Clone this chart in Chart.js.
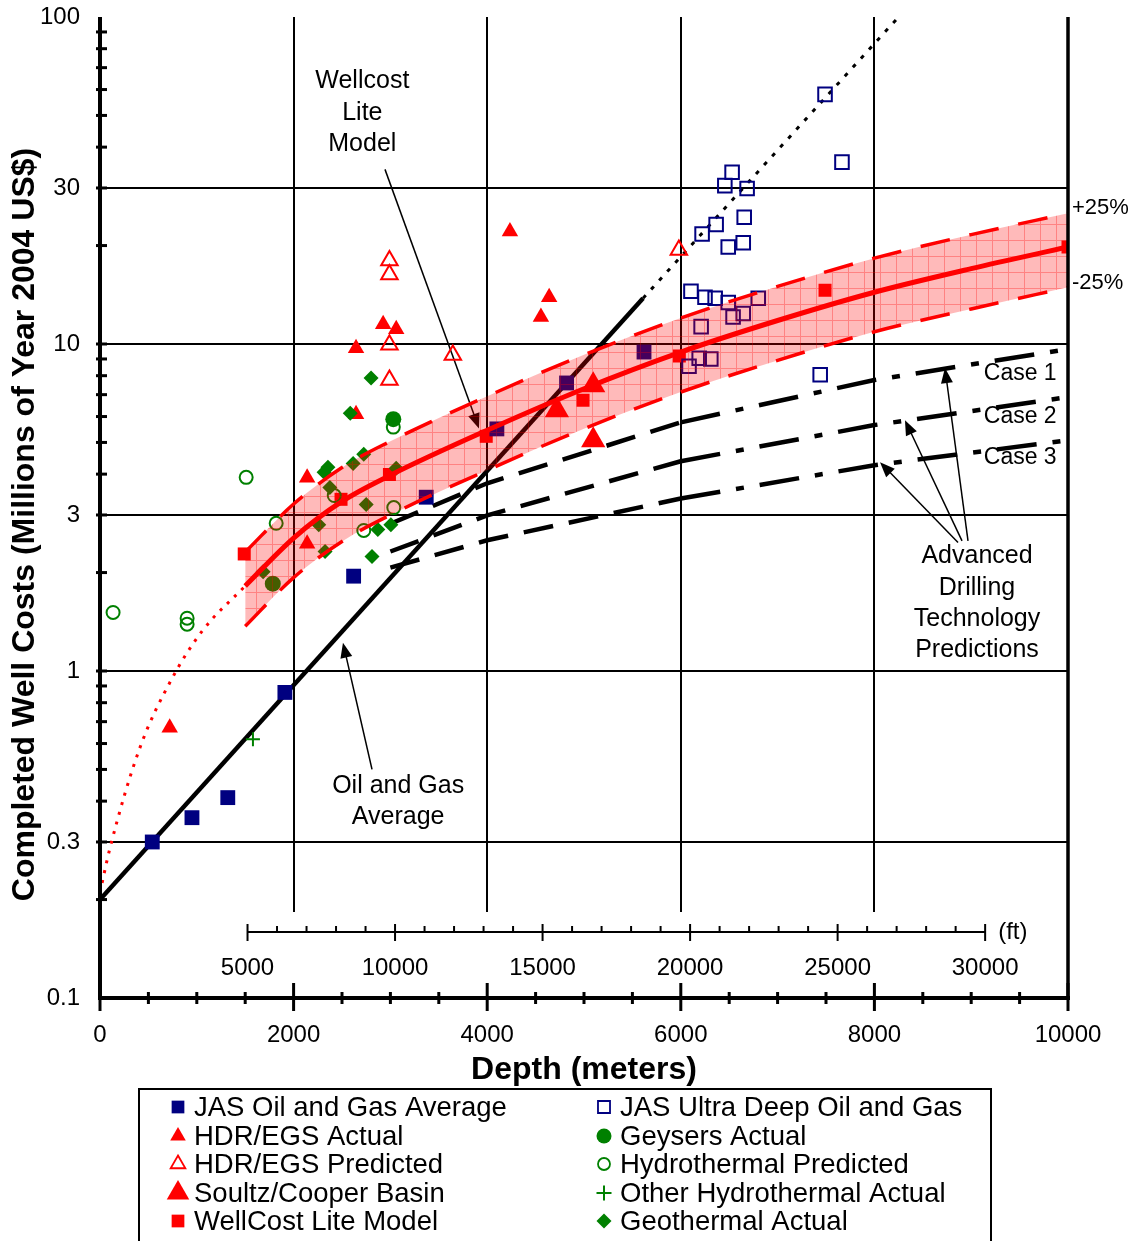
<!DOCTYPE html>
<html><head><meta charset="utf-8">
<script src="https://cdn.jsdelivr.net/npm/chart.js@4.4.1/dist/chart.umd.min.js"></script>
<style>html,body{margin:0;padding:0;background:#fff}#wrap{width:1133px;height:1241px;position:relative}</style>
</head><body><div id="wrap"><canvas id="c" width="1133" height="1241"></canvas></div>
<script>
// ---------- DATA (depth in meters, cost in millions of 2004 US$) ----------
const xTicks = [0, 2000, 4000, 6000, 8000, 10000];
const yTicks = [0.1, 0.3, 1, 3, 10, 30, 100];
const gridDepths = [2000, 4000, 6000, 8000];
const gridCosts = [0.3, 1, 3, 10, 30];
const ftTicks = [5000, 10000, 15000, 20000, 25000, 30000];

const jasDepth = [540, 950, 1320, 1910, 2620, 3370, 4100, 4820, 5620];
const jasCost  = [0.30, 0.356, 0.41, 0.86, 1.95, 3.4, 5.5, 7.6, 9.45];

const ultraDepth = [7490, 7665, 6530, 6455, 6685, 6655, 6365, 6220, 6490, 6645, 6105, 6250, 6355, 6490, 6800, 6540, 6645, 6210, 6190, 6310, 6085, 7440];
const ultraCost  = [58, 36, 33.5, 30.5, 29.9, 24.4, 23.2, 21.7, 19.8, 20.4, 14.5, 13.9, 13.8, 13.4, 13.8, 12.1, 12.4, 11.3, 9.05, 9.0, 8.55, 8.05];

const hdrActDepth = [720, 2140, 2140, 2645, 2645, 2925, 3060, 4235, 4640, 4555];
const hdrActCost  = [0.67, 3.9, 2.45, 6.1, 9.7, 11.5, 11.1, 22.1, 13.9, 12.1];

const hdrPredDepth = [2990, 2990, 2990, 2990, 3645, 5980];
const hdrPredCost  = [18.0, 16.3, 9.95, 7.76, 9.25, 19.4];

const soultzDepth = [4720, 5095, 5095];
const soultzCost  = [6.27, 7.48, 5.08];

const wellcostDepth = [1490, 2490, 2990, 3990, 4990, 5985, 7490, 10000];
const wellcostCost  = [2.28, 3.35, 3.99, 5.22, 6.73, 9.19, 14.6, 19.8];

const geysersDepth = [1785, 3030];
const geysersCost  = [1.85, 5.89];

const hydroPredDepth = [135, 900, 900, 1510, 1820, 2420, 3030, 3035, 2725];
const hydroPredCost  = [1.51, 1.45, 1.39, 3.91, 2.83, 3.44, 5.57, 3.16, 2.69];

const otherHydroDepth = [1580];
const otherHydroCost  = [0.618];

const geoDepth = [1685, 2260, 2315, 2325, 2355, 2375, 2585, 2615, 2725, 2750, 2800, 2810, 2870, 3005, 3060];
const geoCost  = [2.01, 2.8, 4.05, 2.32, 4.2, 3.64, 6.14, 4.31, 4.6, 3.23, 7.87, 2.24, 2.71, 2.8, 4.17];

// WellCost Lite model curve and +/-25% band
const modelDepth = [1500, 2000, 2500, 3000, 4000, 5000, 6000, 7000, 8000, 9000, 10000];
const modelCost  = [1.82, 2.55, 3.3, 3.97, 5.45, 7.3, 9.45, 11.8, 14.4, 17.0, 19.8];
const bandUpper  = [2.31, 3.24, 4.19, 5.04, 6.92, 9.27, 12.0, 15.0, 18.3, 21.6, 25.1];
const bandLower  = [1.37, 1.93, 2.49, 3.0, 4.11, 5.51, 7.13, 8.91, 10.9, 12.8, 14.9];
const modelExtDepth = [0, 100, 410, 745, 1060, 1500];
const modelExtCost  = [0.21, 0.285, 0.58, 0.95, 1.33, 1.82];

// Oil and gas average trend
const oilGasDepth = [0, 5610];
const oilGasCost  = [0.2, 13.8];
const oilGasExtDepth = [5610, 8250];
const oilGasExtCost  = [13.8, 100];

// Advanced drilling technology predictions
const caseDepth = [3000, 4000, 6000, 8000, 10000];
const case1Cost = [2.82, 3.75, 5.76, 7.76, 9.65];
const case2Cost = [2.32, 2.99, 4.38, 5.65, 6.88];
const case3Cost = [2.07, 2.51, 3.37, 4.26, 5.08];

// ---------- STYLE ----------
const FONT = '"Liberation Sans", Arial, sans-serif';
const NAVY = '#000080', RED = '#ff0000', GREEN = '#008000';
const pts = (xs, ys) => xs.map((x, i) => ({x, y: ys[i]}));

const cv = document.getElementById('c');
const mctx = cv.getContext('2d');
function makeHatch(){
  const c = document.createElement('canvas'); c.width = 16; c.height = 16;
  const g = c.getContext('2d');
  g.fillStyle = 'rgba(255,0,0,0.27)'; g.fillRect(0,0,16,16);
  g.fillStyle = 'rgba(255,0,0,0.30)'; g.fillRect(0,0,16,1); g.fillRect(0,1,1,15);
  return mctx.createPattern(c, 'repeat');
}
const hatch = makeHatch();

function lineDS(data, color, width, dash, order, extra){
  return Object.assign({data, borderColor: color, backgroundColor: color, borderWidth: width, borderDash: dash || [],
    pointRadius: 0, showLine: true, fill: false, order, tension: 0}, extra || {});
}
function ptDS(label, data, style, r, fill, stroke, bw){
  return {label, data, showLine: false, pointStyle: style, pointRadius: r, pointHoverRadius: r,
    backgroundColor: fill, borderColor: stroke, pointBorderWidth: bw, borderWidth: bw, order: 3};
}
const caseSeg = {borderDash: c => c.p0.parsed.x >= 6000 ? [40,16,8,16] : [30,16]};

const datasets = [
  lineDS(pts(oilGasDepth, oilGasCost), '#000', 4.5, [], 4),
  lineDS(pts(oilGasExtDepth, oilGasExtCost), '#000', 3, [4,8], 4),
  lineDS(pts(modelExtDepth, modelExtCost), RED, 3, [3,7], 4, {cubicInterpolationMode: 'monotone'}),
  lineDS(pts(caseDepth, case1Cost), '#000', 4.5, [30,16], 4, {segment: caseSeg}),
  lineDS(pts(caseDepth, case2Cost), '#000', 4.5, [30,16], 4, {segment: caseSeg}),
  lineDS(pts(caseDepth, case3Cost), '#000', 4.5, [30,16], 4, {segment: caseSeg}),
  ptDS('Geysers Actual', pts(geysersDepth, geysersCost), 'circle', 8, GREEN, GREEN, 0),
  ptDS('Hydrothermal Predicted', pts(hydroPredDepth, hydroPredCost), 'circle', 6.5, 'rgba(0,0,0,0)', GREEN, 2),
  ptDS('Other Hydrothermal Actual', pts(otherHydroDepth, otherHydroCost), 'cross', 7, GREEN, GREEN, 2),
  ptDS('Geothermal Actual', pts(geoDepth, geoCost), 'rectRot', 7.5, GREEN, GREEN, 0),
  ptDS('JAS Oil and Gas Average', pts(jasDepth, jasCost), 'rect', 10.5, NAVY, NAVY, 0),
  ptDS('JAS Ultra Deep Oil and Gas', pts(ultraDepth, ultraCost), 'rect', 9.6, 'rgba(0,0,0,0)', NAVY, 2),
  ptDS('HDR/EGS Predicted', pts(hdrPredDepth, hdrPredCost), 'triangle', 9.5, 'rgba(0,0,0,0)', RED, 2),
  ptDS('HDR/EGS Actual', pts(hdrActDepth, hdrActCost), 'triangle', 9.5, RED, RED, 0),
  ptDS('Soultz/Cooper Basin', pts(soultzDepth, soultzCost), 'triangle', 14, RED, RED, 0),
  ptDS('WellCost Lite Model', pts(wellcostDepth, wellcostCost), 'rect', 9.2, RED, RED, 0),
  lineDS(pts(modelDepth, bandUpper), RED, 3.5, [30,20], 2, {fill: '+1', backgroundColor: hatch, cubicInterpolationMode: 'monotone'}),
  lineDS(pts(modelDepth, bandLower), RED, 3.5, [30,20], 2, {cubicInterpolationMode: 'monotone'}),
  lineDS(pts(modelDepth, modelCost), RED, 5, [], 1, {cubicInterpolationMode: 'monotone'})
];

// ---------- annotations (anchored in data units) ----------
const textLabels = [
  {d: 2710, c: 63.5, lines: ['Wellcost', 'Lite', 'Model'], align: 'center', size: 25, lh: 31.5},
  {d: 3080, c: 0.444, lines: ['Oil and Gas', 'Average'], align: 'center', size: 25, lh: 31},
  {d: 9060, c: 2.24, lines: ['Advanced', 'Drilling', 'Technology', 'Predictions'], align: 'center', size: 25, lh: 31.3},
  {d: 9130, c: 8.09, lines: ['Case 1'], align: 'left', size: 23, lh: 0},
  {d: 9130, c: 6.01, lines: ['Case 2'], align: 'left', size: 23, lh: 0},
  {d: 9130, c: 4.5, lines: ['Case 3'], align: 'left', size: 23, lh: 0},
  {d: 10041, c: 26.1, lines: ['+25%'], align: 'left', size: 22, lh: 0},
  {d: 10041, c: 15.4, lines: ['-25%'], align: 'left', size: 22, lh: 0}
];
const arrows = [
  {d0: 2944, c0: 34.2, d1: 3915, c1: 5.52},
  {d0: 2810, c0: 0.50, d1: 2510, c1: 1.22},
  {d0: 8967, c0: 2.5, d1: 8729, c1: 8.44},
  {d0: 8905, c0: 2.5, d1: 8316, c1: 5.85},
  {d0: 8864, c0: 2.47, d1: 8058, c1: 4.35}
];

function seg(ctx, x0, y0, x1, y1){ ctx.beginPath(); ctx.moveTo(x0, y0); ctx.lineTo(x1, y1); ctx.stroke(); }
function marker(ctx, style, x, y, r, fill, stroke, lw){
  ctx.save(); ctx.beginPath();
  if (style === 'rect'){ const s = r*Math.SQRT1_2; ctx.rect(x-s, y-s, 2*s, 2*s); }
  else if (style === 'triangle'){ ctx.moveTo(x, y-r); ctx.lineTo(x+r*0.866, y+r/2); ctx.lineTo(x-r*0.866, y+r/2); ctx.closePath(); }
  else if (style === 'circle'){ ctx.arc(x, y, r, 0, Math.PI*2); }
  else if (style === 'rectRot'){ ctx.moveTo(x-r, y); ctx.lineTo(x, y-r); ctx.lineTo(x+r, y); ctx.lineTo(x, y+r); ctx.closePath(); }
  else if (style === 'cross'){ ctx.moveTo(x-r, y); ctx.lineTo(x+r, y); ctx.moveTo(x, y-r); ctx.lineTo(x, y+r); }
  if (fill && style !== 'cross'){ ctx.fillStyle = fill; ctx.fill(); }
  if (stroke){ ctx.strokeStyle = stroke; ctx.lineWidth = lw; ctx.stroke(); }
  ctx.restore();
}

const legendLeft = [
  ['rect', 9, NAVY, null, 0, 'JAS Oil and Gas Average'],
  ['triangle', 9, RED, null, 0, 'HDR/EGS Actual'],
  ['triangle', 8.5, null, RED, 1.8, 'HDR/EGS Predicted'],
  ['triangle', 13, RED, null, 0, 'Soultz/Cooper Basin'],
  ['rect', 9, RED, null, 0, 'WellCost Lite Model']
];
const legendRight = [
  ['rect', 8.5, null, NAVY, 1.8, 'JAS Ultra Deep Oil and Gas'],
  ['circle', 7.5, GREEN, null, 0, 'Geysers Actual'],
  ['circle', 6, null, GREEN, 1.8, 'Hydrothermal Predicted'],
  ['cross', 7.5, null, GREEN, 2, 'Other Hydrothermal Actual'],
  ['rectRot', 7.5, GREEN, null, 0, 'Geothermal Actual']
];

const deco = {
  id: 'deco',
  beforeDatasetsDraw(chart){
    const {ctx, chartArea: a, scales: {x, y}} = chart;
    ctx.save();
    ctx.strokeStyle = '#000'; ctx.lineWidth = 2;
    gridCosts.forEach(v => { const Y = Math.round(y.getPixelForValue(v)); seg(ctx, a.left, Y, a.right, Y); });
    gridDepths.forEach(d => { const X = Math.round(x.getPixelForValue(d)); seg(ctx, X, a.top, X, a.bottom - 86); });
    // arrows
    ctx.lineWidth = 1.5; ctx.fillStyle = '#000';
    arrows.forEach(ar => {
      const x0 = x.getPixelForValue(ar.d0), y0 = y.getPixelForValue(ar.c0);
      const x1 = x.getPixelForValue(ar.d1), y1 = y.getPixelForValue(ar.c1);
      const ang = Math.atan2(y1 - y0, x1 - x0), L = 15, W = 6;
      seg(ctx, x0, y0, x1 - Math.cos(ang)*L*0.8, y1 - Math.sin(ang)*L*0.8);
      ctx.beginPath(); ctx.moveTo(x1, y1);
      ctx.lineTo(x1 - Math.cos(ang)*L - Math.sin(ang)*W, y1 - Math.sin(ang)*L + Math.cos(ang)*W);
      ctx.lineTo(x1 - Math.cos(ang)*L + Math.sin(ang)*W, y1 - Math.sin(ang)*L - Math.cos(ang)*W);
      ctx.closePath(); ctx.fill();
    });
    ctx.restore();
  },
  afterDatasetsDraw(chart){
    const {ctx, chartArea: a, scales: {x, y}} = chart;
    ctx.save();
    ctx.strokeStyle = '#000'; ctx.fillStyle = '#000';
    // axes frame
    ctx.lineWidth = 4;
    seg(ctx, a.left, a.top, a.left, a.bottom + 2);
    seg(ctx, a.left - 2, a.bottom, a.right + 2, a.bottom);
    ctx.lineWidth = 3.5;
    seg(ctx, a.right, a.top, a.right, a.bottom);
    // x ticks
    ctx.lineWidth = 3;
    for (let d = 0; d <= 10000; d += 500){
      const X = x.getPixelForValue(d);
      if (d % 2000 === 0) seg(ctx, X, a.bottom - 15, X, a.bottom + 13);
      else seg(ctx, X, a.bottom - 6, X, a.bottom + 6);
    }
    // y ticks
    for (let e = -1; e < 2; e++){
      for (let m = 1; m <= 9; m++){
        const v = m * Math.pow(10, e);
        if (v <= 0.1 || v >= 100) continue;
        const Y = y.getPixelForValue(v);
        seg(ctx, a.left - 4, Y, a.left + 7, Y);
      }
    }
    // feet axis
    const ftY = a.bottom - 66;
    const ftX = ft => x.getPixelForValue(ft * 0.3048);
    ctx.lineWidth = 2;
    seg(ctx, ftX(5000), ftY, ftX(30000), ftY);
    for (let ft = 5000; ft <= 30000; ft += 1000){
      const X = ftX(ft);
      if (ft % 5000 === 0) seg(ctx, X, ftY - 8, X, ftY + 9);
      else seg(ctx, X, ftY - 6, X, ftY);
    }
    ctx.font = '24px ' + FONT; ctx.textBaseline = 'middle'; ctx.textAlign = 'center';
    ftTicks.forEach(ft => ctx.fillText(String(ft), ftX(ft), ftY + 36));
    ctx.textAlign = 'left';
    ctx.fillText('(ft)', ftX(30000) + 13, ftY);
    // text labels
    textLabels.forEach(t => {
      const X = x.getPixelForValue(t.d), Y = y.getPixelForValue(t.c);
      ctx.font = t.size + 'px ' + FONT; ctx.textAlign = t.align; ctx.textBaseline = 'middle';
      t.lines.forEach((s, i) => ctx.fillText(s, X, Y + i * t.lh));
    });
    ctx.restore();
  },
  afterDraw(chart){
    const {ctx, chartArea: a} = chart;
    ctx.save();
    ctx.fillStyle = '#000';
    // axis titles
    ctx.font = 'bold 32px ' + FONT; ctx.textAlign = 'center'; ctx.textBaseline = 'middle';
    ctx.fillText('Depth (meters)', (a.left + a.right) / 2, a.bottom + 72);
    ctx.save();
    ctx.translate(a.left - 75, (a.top + a.bottom) / 2 + 17);
    ctx.rotate(-Math.PI / 2);
    ctx.fillText('Completed Well Costs (Millions of Year 2004 US$)', 0, 0);
    ctx.restore();
    // legend
    ctx.strokeStyle = '#000'; ctx.lineWidth = 2;
    ctx.strokeRect(139, 1089, 852, 200);
    const rows = [1107, 1136, 1164, 1193, 1221];
    ctx.font = '27.5px ' + FONT; ctx.textAlign = 'left'; ctx.textBaseline = 'middle';
    [[legendLeft, 178, 194], [legendRight, 604, 620]].forEach(([items, mx, tx]) => {
      items.forEach((it, i) => {
        marker(ctx, it[0], mx, rows[i], it[1], it[2], it[3], it[4]);
        ctx.fillStyle = '#000';
        ctx.fillText(it[5], tx, rows[i] + 1);
      });
    });
    ctx.restore();
  }
};

new Chart(cv, {
  type: 'line',
  data: {datasets},
  options: {
    responsive: false, animation: false, devicePixelRatio: 1,
    layout: {padding: {left: 0, top: 17, right: 65, bottom: 0}},
    plugins: {legend: {display: false}, tooltip: {enabled: false}, filler: {propagate: false}},
    scales: {
      x: {type: 'linear', min: 0, max: 10000,
        grid: {display: false, drawTicks: false}, border: {display: false},
        afterBuildTicks: s => { s.ticks = xTicks.map(v => ({value: v})); },
        ticks: {autoSkip: false, maxRotation: 0, padding: 23, color: '#000', font: {family: FONT, size: 24}, callback: v => String(v)},
        afterFit: s => { s.height = 243; s.paddingLeft = 0; s.paddingRight = 0; }},
      y: {type: 'logarithmic', min: 0.1, max: 100,
        grid: {display: false, drawTicks: false}, border: {display: false},
        afterBuildTicks: s => { s.ticks = yTicks.map(v => ({value: v})); },
        ticks: {autoSkip: false, padding: 20, color: '#000', font: {family: FONT, size: 24}, callback: v => String(v)},
        afterFit: s => { s.width = 100; s.paddingTop = 0; s.paddingBottom = 0; }}
    }
  },
  plugins: [deco]
});
</script></body></html>
